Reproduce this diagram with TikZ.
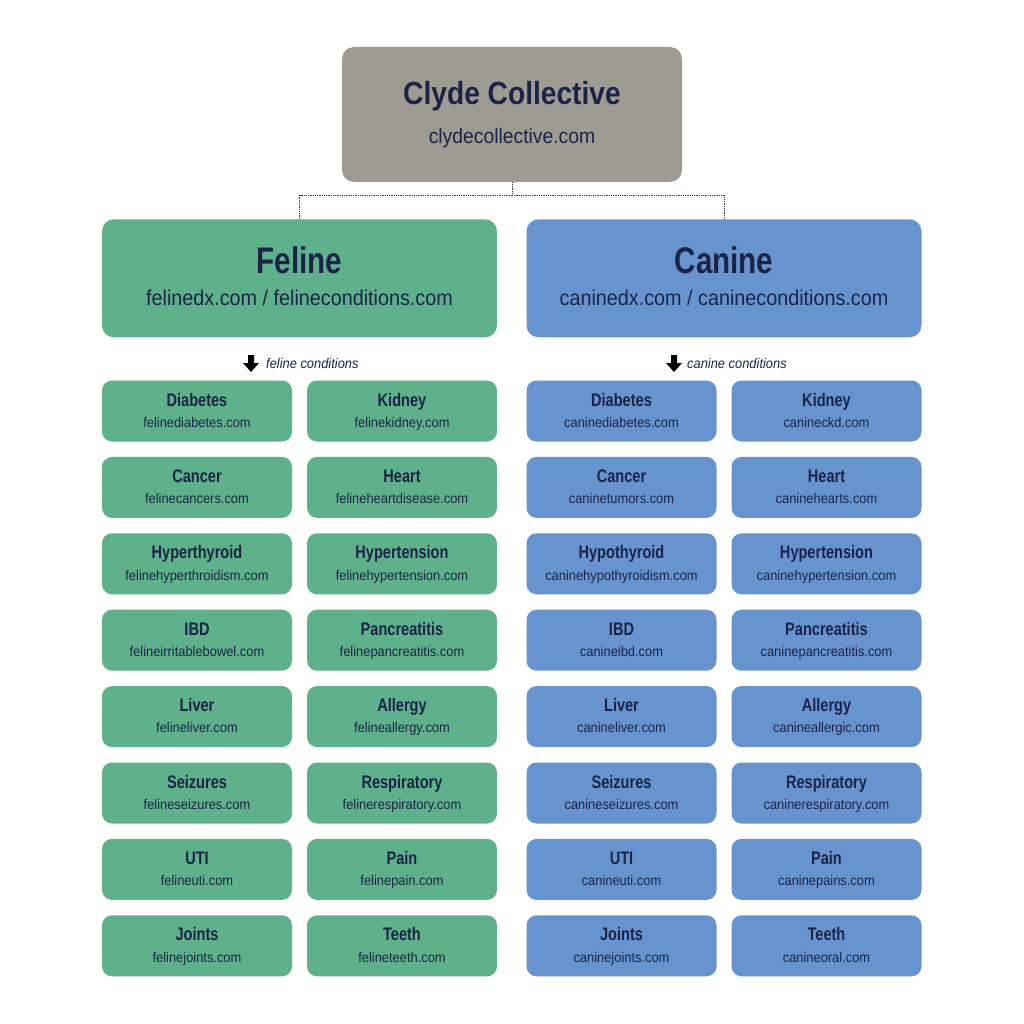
\documentclass[tikz,border=0pt]{standalone}
\usepackage{fontspec}
\usetikzlibrary{calc}
\setmainfont{Liberation Sans}[FakeStretch=0.92]
\newfontfamily\boldf{Liberation Sans}[FakeStretch=0.8]
\newfontfamily\topf{Liberation Sans}[FakeStretch=0.88]
\definecolor{topgray}{HTML}{9F9B93}
\definecolor{felgreen}{HTML}{5EB18A}
\definecolor{canblue}{HTML}{6794CF}
\definecolor{navy}{HTML}{1B2447}
\tikzset{
  box/.style={rounded corners=12pt, inner sep=0pt},
  topbox/.style={box, fill=topgray, minimum width=340pt, minimum height=135pt},
  bigbox/.style={box, minimum width=395pt, minimum height=118pt},
  smallbox/.style={box, rounded corners=10pt, minimum width=190pt, minimum height=61pt},
  fel/.style={fill=felgreen},
  can/.style={fill=canblue},
  txt/.style={text=navy, inner sep=0pt, anchor=base},
  toptitle/.style={txt, font=\topf\bfseries\fontsize{32}{36}\selectfont},
  topsub/.style={txt, font=\fontsize{21}{24}\selectfont},
  bigtitle/.style={txt, font=\boldf\bfseries\fontsize{37}{40}\selectfont},
  bigsub/.style={txt, font=\fontsize{21.5}{24}\selectfont},
  smtitle/.style={txt, font=\boldf\bfseries\fontsize{18.2}{20}\selectfont},
  smsub/.style={txt, font=\fontsize{14}{16}\selectfont},
  conn/.style={densely dotted, line width=0.8pt, black!80},
  condlabel/.style={text=navy, font=\fontsize{14}{16}\selectfont\itshape, anchor=west, inner sep=0pt},
}
\begin{document}
\begin{tikzpicture}[x=1pt,y=-1pt]
\useasboundingbox (0,0) rectangle (1024,1024);
\node[topbox] (top) at (512,114.5) {};
\node[toptitle] (topT) at ($(top.center)+(0,-9.5)$) {Clyde Collective};
\node[topsub] (topS) at ($(top.center)+(0,28.8)$) {clydecollective.com};
\node[bigbox,fel] (feline) at (299.5,278.3) {};
\node[bigtitle] (felineT) at ($(feline.center)+(0,-5)$) {Feline};
\node[bigsub] (felineS) at ($(feline.center)+(0,27.4)$) {felinedx.com / felineconditions.com};
\node[bigbox,can] (canine) at (724,278.3) {};
\node[bigtitle] (canineT) at ($(canine.center)+(0,-5)$) {Canine};
\node[bigsub] (canineS) at ($(canine.center)+(0,27.4)$) {caninedx.com / canineconditions.com};
\coordinate (split) at (512,195);
\draw[conn] (top.south) -- (split);
\draw[conn] (split) -| (feline.north);
\draw[conn] (split) -| (canine.north);
% condition labels
\node[condlabel] (fcond) at (266,363) {feline conditions};
\node[condlabel] (ccond) at (687,363) {canine conditions};
\fill[black] (248,355) -- (254,355) -- (254,363) -- (259,363) -- (251,372) -- (243,363) -- (248,363) -- cycle;
\fill[black] (671,355) -- (677,355) -- (677,363) -- (682,363) -- (674,372) -- (666,363) -- (671,363) -- cycle;
% feline grid
\foreach \r/\a/\au/\b [count=\i from 0] in {
 Diabetes/felinediabetes.com/Kidney/felinekidney.com,
 Cancer/felinecancers.com/Heart/felineheartdisease.com,
 Hyperthyroid/felinehyperthroidism.com/Hypertension/felinehypertension.com,
 IBD/felineirritablebowel.com/Pancreatitis/felinepancreatitis.com,
 Liver/felineliver.com/Allergy/felineallergy.com,
 Seizures/felineseizures.com/Respiratory/felinerespiratory.com,
 UTI/felineuti.com/Pain/felinepain.com,
 Joints/felinejoints.com/Teeth/felineteeth.com}{
  \node[smallbox,fel] (fl\i) at (197,{411+76.4*\i}) {};
  \node[smtitle] (fl\i t) at ($(fl\i.center)+(0,-5)$) {\r};
  \node[smsub] (fl\i s) at ($(fl\i.center)+(0,16.3)$) {\a};
  \node[smallbox,fel] (fr\i) at (402,{411+76.4*\i}) {};
  \node[smtitle] (fr\i t) at ($(fr\i.center)+(0,-5)$) {\au};
  \node[smsub] (fr\i s) at ($(fr\i.center)+(0,16.3)$) {\b};
}
% canine grid
\foreach \r/\a/\au/\b [count=\i from 0] in {
 Diabetes/caninediabetes.com/Kidney/canineckd.com,
 Cancer/caninetumors.com/Heart/caninehearts.com,
 Hypothyroid/caninehypothyroidism.com/Hypertension/caninehypertension.com,
 IBD/canineibd.com/Pancreatitis/caninepancreatitis.com,
 Liver/canineliver.com/Allergy/canineallergic.com,
 Seizures/canineseizures.com/Respiratory/caninerespiratory.com,
 UTI/canineuti.com/Pain/caninepains.com,
 Joints/caninejoints.com/Teeth/canineoral.com}{
  \node[smallbox,can] (cl\i) at (621.5,{411+76.4*\i}) {};
  \node[smtitle] (cl\i t) at ($(cl\i.center)+(0,-5)$) {\r};
  \node[smsub] (cl\i s) at ($(cl\i.center)+(0,16.3)$) {\a};
  \node[smallbox,can] (cr\i) at (826.5,{411+76.4*\i}) {};
  \node[smtitle] (cr\i t) at ($(cr\i.center)+(0,-5)$) {\au};
  \node[smsub] (cr\i s) at ($(cr\i.center)+(0,16.3)$) {\b};
}
\end{tikzpicture}
\end{document}
